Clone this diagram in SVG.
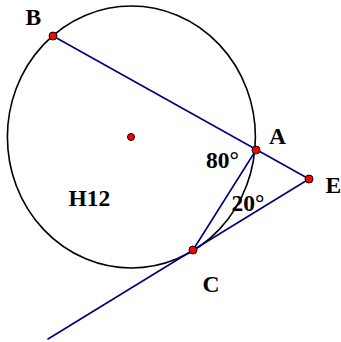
<svg xmlns="http://www.w3.org/2000/svg" width="341" height="342" viewBox="0 0 341 342">
<style>
.ln{stroke:#000080;stroke-width:1.6;fill:none;stroke-linecap:round}
.pt{fill:#ff0000;stroke:#000000;stroke-width:1}
.lb{font-family:"Liberation Serif","Times New Roman",serif;font-weight:bold;font-size:23.5px;fill:#000000}
</style>
<rect width="341" height="342" fill="#ffffff"/>
<g id="circle">
<ellipse cx="131.4" cy="137" rx="124" ry="131" fill="none" stroke="#000000" stroke-width="1.6"/>
</g>
<g id="connectors">
<line class="ln" x1="53" y1="36" x2="309" y2="179"/>
<line class="ln" x1="256" y1="150" x2="193" y2="250"/>
<line class="ln" x1="309" y1="179" x2="48" y2="339"/>
</g>
<g id="O"><circle class="pt" cx="131" cy="137" r="3.5"/></g>
<g id="B"><circle class="pt" cx="53" cy="36" r="4"/><text class="lb" x="25.5" y="25">B</text></g>
<g id="A"><circle class="pt" cx="256" cy="150" r="4"/><text class="lb" x="269" y="143.5">A</text></g>
<g id="E"><circle class="pt" cx="309" cy="179" r="4"/><text class="lb" x="325.5" y="192.7">E</text></g>
<g id="C"><circle class="pt" cx="193" cy="250" r="4"/><text class="lb" x="202.5" y="291.7">C</text></g>
<g id="angle80"><text class="lb" x="206" y="167.7">80°</text></g>
<g id="angle20"><text class="lb" x="231.5" y="211">20°</text></g>
<g id="H12"><text class="lb" x="68.5" y="206">H12</text></g>
</svg>
